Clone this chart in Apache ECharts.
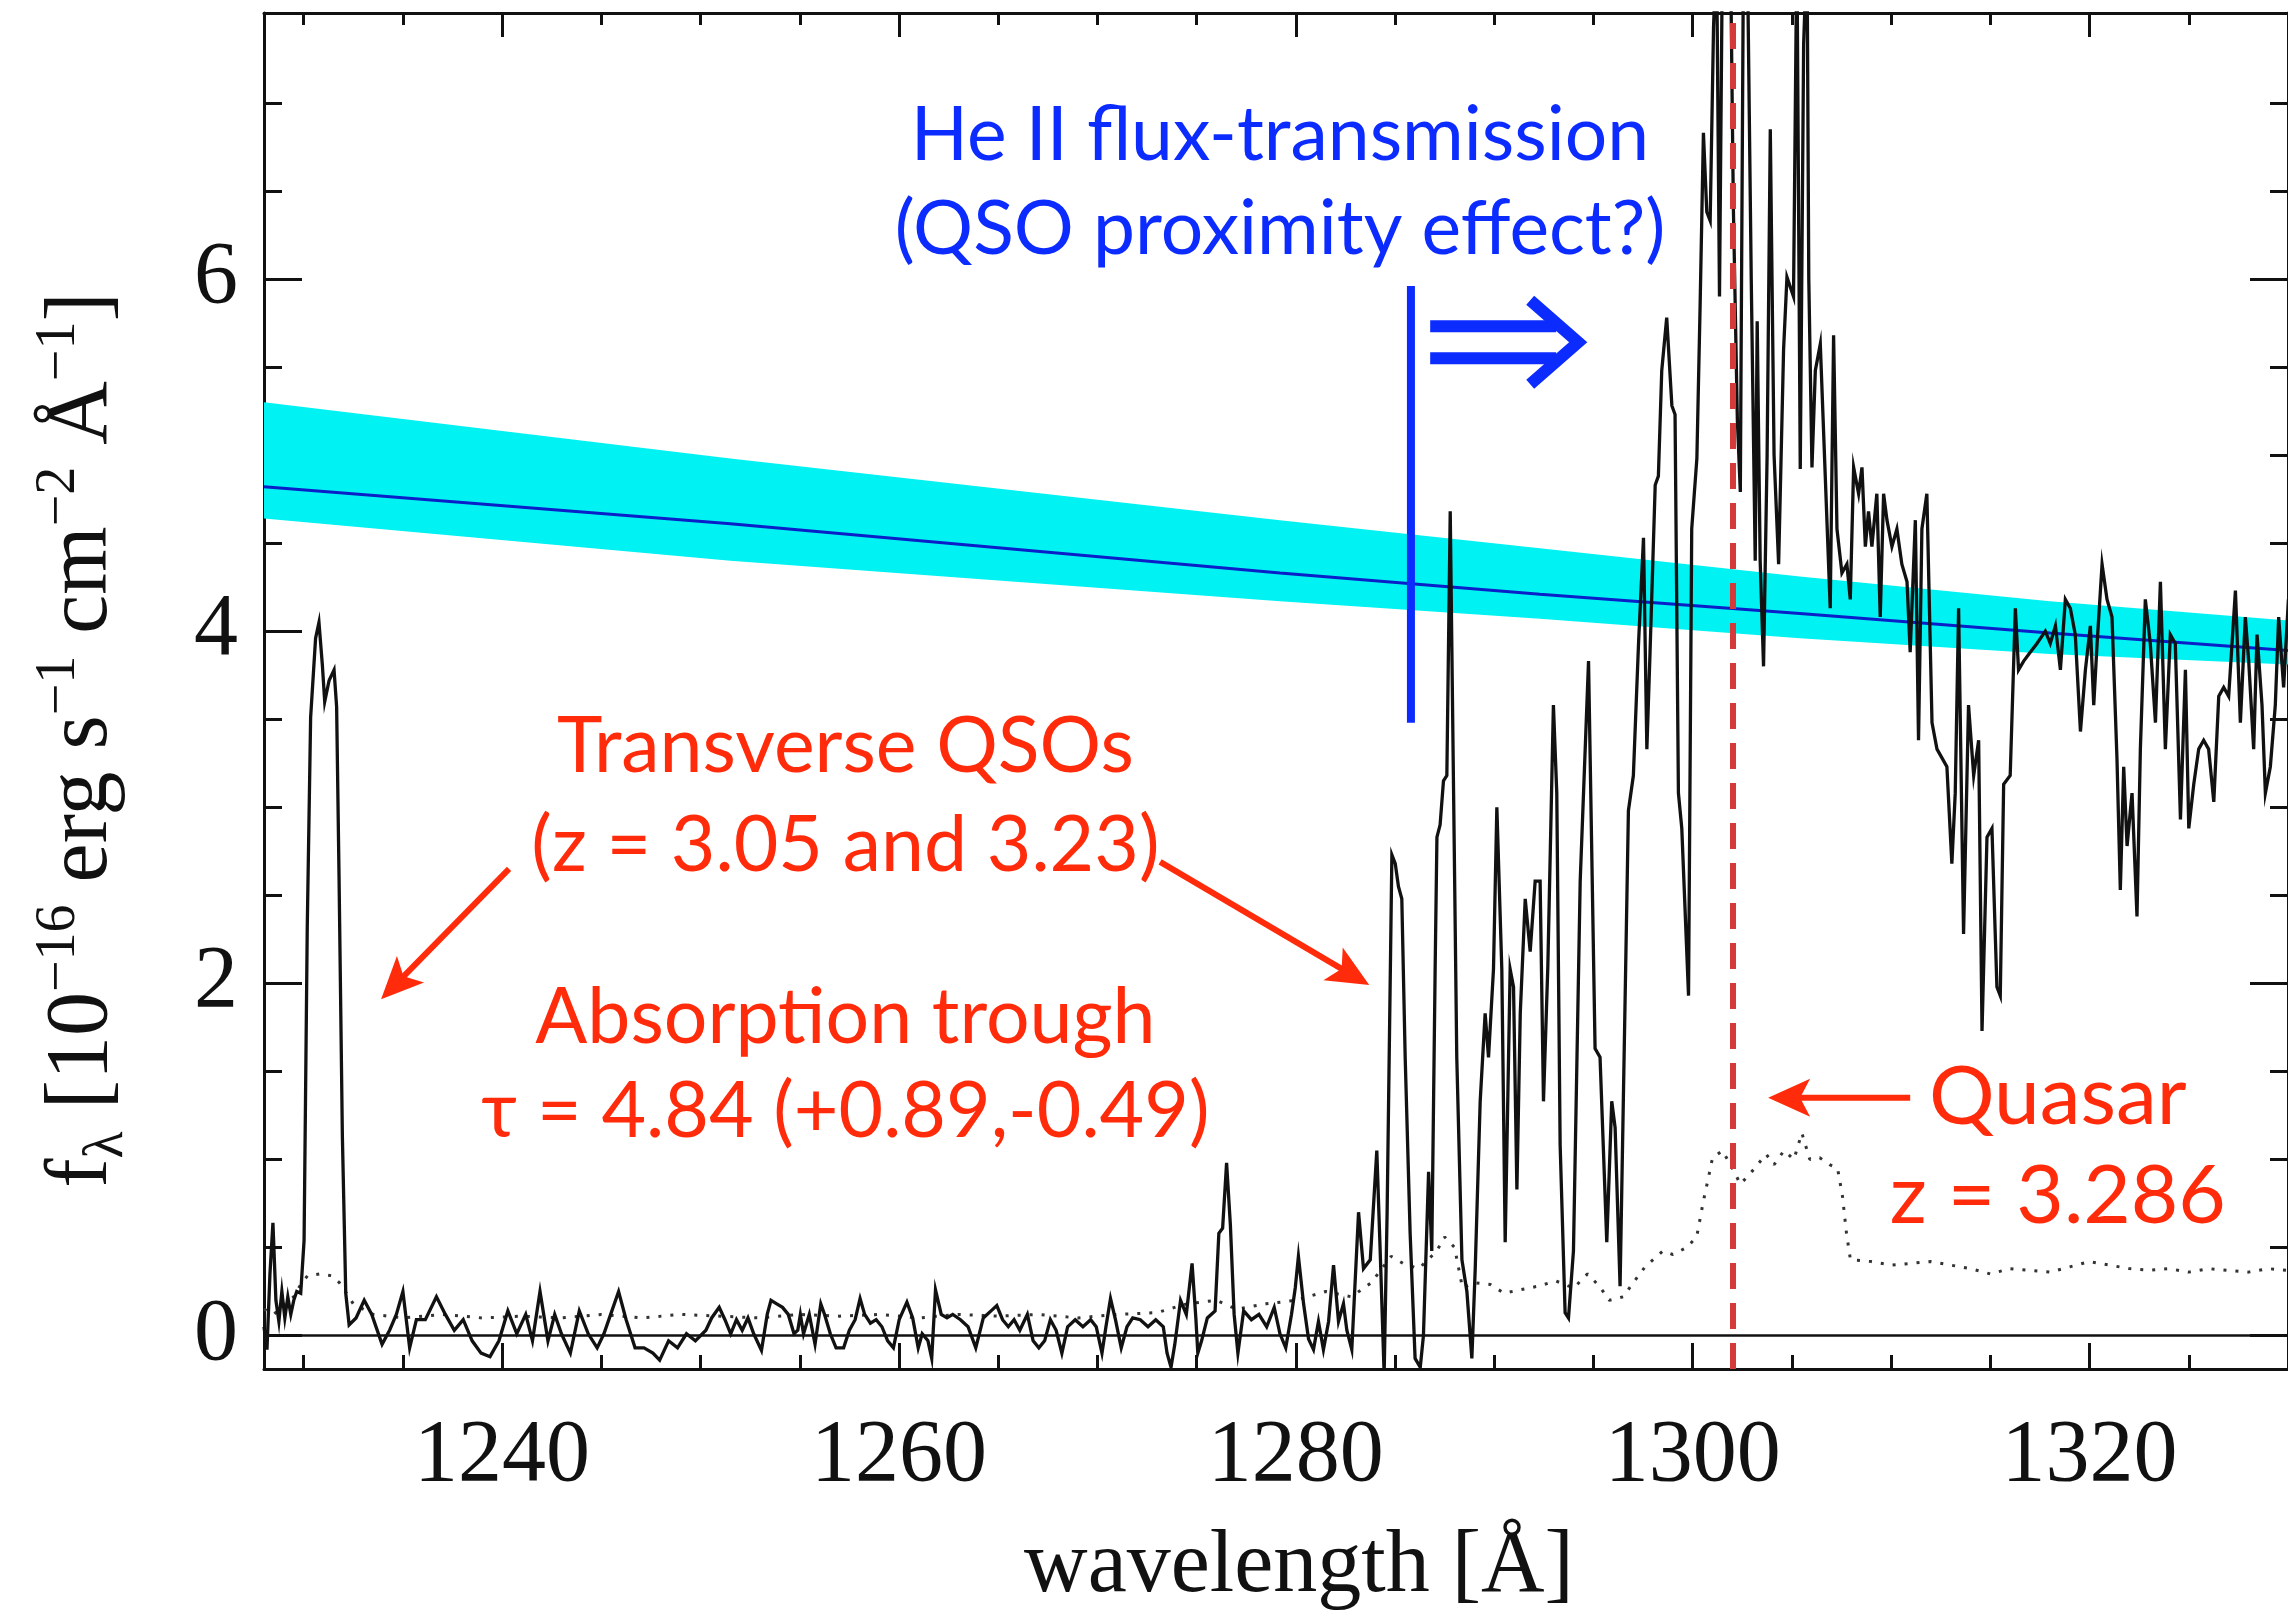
<!DOCTYPE html>
<html>
<head>
<meta charset="utf-8">
<title>He II transmission spectrum</title>
<script src="https://cdn.jsdelivr.net/npm/echarts@6/dist/echarts.min.js"></script>
<style>
html, body { margin: 0; padding: 0; background: #fff; }
#chart { width: 2288px; height: 1617px; }
</style>
</head>
<body>
<div id="chart"></div>
<script>
// axis ranges and ticks
const xMin = 1228, xMax = 1330;
const yMin = -0.19, yMax = 7.51;
const xTicks = [1240, 1260, 1280, 1300, 1320];
const xMinorTicks = [1230, 1235, 1245, 1250, 1255, 1265, 1270, 1275, 1285, 1290, 1295, 1305, 1310, 1315, 1325];
const yTicks = [0, 2, 4, 6];
const yMinorTicks = [0.5, 1, 1.5, 2.5, 3, 3.5, 4.5, 5, 5.5, 6.5, 7];

// observed flux [wavelength, f_lambda]
const flux = [
  [1228.0, 0.05], [1228.15, -0.08], [1228.3, 0.35], [1228.45, 0.64], [1228.6, 0.2], [1228.75, 0.08],
  [1228.9, 0.25], [1229.05, 0.1], [1229.2, 0.22], [1229.35, 0.12], [1229.5, 0.2], [1229.65, 0.25],
  [1229.85, 0.24], [1230.02, 0.54], [1230.18, 2.32], [1230.35, 3.51], [1230.6, 3.96], [1230.77, 4.05],
  [1230.94, 3.81], [1231.06, 3.6], [1231.28, 3.72], [1231.53, 3.78], [1231.66, 3.57], [1231.78, 2.62],
  [1231.95, 1.13], [1232.12, 0.24], [1232.29, 0.06], [1232.64, 0.1], [1233.05, 0.2], [1233.43, 0.12],
  [1233.95, -0.05], [1234.33, 0.03], [1234.67, 0.12], [1235.0, 0.25], [1235.34, -0.07], [1235.68, 0.09],
  [1236.13, 0.09], [1236.69, 0.22], [1237.14, 0.12], [1237.59, 0.03], [1238.04, 0.09], [1238.49, -0.03],
  [1238.94, -0.1], [1239.39, -0.12], [1239.84, -0.03], [1240.29, 0.14], [1240.74, 0.01], [1241.19, 0.12],
  [1241.53, -0.03], [1241.91, 0.25], [1242.31, -0.03], [1242.65, 0.12], [1242.99, 0.01], [1243.44, -0.1],
  [1243.89, 0.14], [1244.34, 0.01], [1244.79, -0.07], [1245.13, 0.01], [1245.47, 0.12], [1245.87, 0.25],
  [1246.25, 0.09], [1246.7, -0.07], [1247.15, -0.07], [1247.6, -0.1], [1247.94, -0.14], [1248.39, -0.03],
  [1248.84, -0.07], [1249.29, 0.01], [1249.74, -0.03], [1250.27, 0.03], [1250.56, 0.1], [1250.94, 0.16],
  [1251.23, 0.09], [1251.52, 0.01], [1251.81, 0.09], [1252.1, 0.03], [1252.39, 0.1], [1252.68, 0.01],
  [1253.07, -0.085], [1253.36, 0.12], [1253.55, 0.2], [1253.84, 0.18], [1254.13, 0.16], [1254.42, 0.12],
  [1254.71, 0.01], [1254.9, 0.03], [1255.03, 0.12], [1255.19, 0.01], [1255.48, 0.12], [1255.77, -0.05],
  [1256.06, 0.18], [1256.25, 0.12], [1256.54, 0.01], [1256.83, -0.07], [1257.21, -0.07], [1257.5, 0.03],
  [1257.79, 0.09], [1258.04, 0.21], [1258.27, 0.12], [1258.56, 0.07], [1258.85, 0.09], [1259.14, 0.05],
  [1259.43, -0.03], [1259.72, -0.07], [1260.01, 0.09], [1260.4, 0.19], [1260.69, 0.1], [1260.97, -0.07],
  [1261.17, 0.01], [1261.46, -0.03], [1261.65, -0.13], [1261.84, 0.26], [1262.13, 0.12], [1262.42, 0.1],
  [1262.71, 0.12], [1263.1, 0.09], [1263.48, 0.05], [1263.87, -0.07], [1264.25, 0.1], [1264.64, 0.14],
  [1264.93, 0.17], [1265.22, 0.09], [1265.51, 0.05], [1265.8, 0.09], [1266.09, 0.03], [1266.47, 0.12],
  [1266.76, -0.03], [1267.05, -0.07], [1267.34, -0.03], [1267.63, 0.09], [1267.92, 0.03], [1268.21, -0.1],
  [1268.5, 0.05], [1268.88, 0.09], [1269.27, 0.05], [1269.66, 0.09], [1269.94, 0.05], [1270.23, -0.1],
  [1270.43, 0.05], [1270.66, 0.21], [1270.91, 0.09], [1271.2, -0.07], [1271.49, 0.05], [1271.78, 0.1],
  [1272.16, 0.09], [1272.55, 0.05], [1272.94, 0.09], [1273.32, 0.05], [1273.51, -0.1], [1273.71, -0.18],
  [1273.9, -0.05], [1274.19, 0.2], [1274.48, 0.12], [1274.77, 0.41], [1274.96, 0.1], [1275.06, -0.1],
  [1275.25, -0.03], [1275.54, 0.1], [1275.93, 0.14], [1276.12, 0.58], [1276.31, 0.61], [1276.51, 0.98],
  [1276.7, 0.63], [1276.89, 0.12], [1277.08, -0.1], [1277.37, 0.14], [1277.76, 0.09], [1278.14, 0.12],
  [1278.53, 0.05], [1278.91, 0.16], [1279.2, 0.01], [1279.49, -0.07], [1279.78, 0.12], [1279.97, 0.27],
  [1280.13, 0.45], [1280.39, 0.18], [1280.64, -0.02], [1280.89, -0.08], [1281.14, 0.08], [1281.39, -0.08],
  [1281.65, 0.08], [1281.9, 0.4], [1282.15, 0.08], [1282.4, 0.18], [1282.57, 0.03], [1282.82, -0.08],
  [1283.16, 0.7], [1283.41, 0.38], [1283.75, 0.43], [1284.08, 1.05], [1284.25, 0.48], [1284.45, -0.22],
  [1284.6, 0.7], [1284.84, 2.73], [1285.01, 2.68], [1285.17, 2.55], [1285.34, 2.48], [1285.51, 1.58],
  [1285.76, 0.58], [1286.01, -0.13], [1286.27, -0.18], [1286.43, 0.0], [1286.69, 0.93], [1286.85, 0.48],
  [1287.02, 2.08], [1287.11, 2.83], [1287.27, 2.9], [1287.44, 3.15], [1287.61, 3.18], [1287.78, 4.68],
  [1287.95, 3.08], [1288.11, 1.58], [1288.37, 0.43], [1288.62, 0.25], [1288.87, -0.13], [1289.04, 0.38],
  [1289.29, 1.33], [1289.54, 1.83], [1289.71, 1.58], [1289.96, 2.08], [1290.13, 3.0], [1290.38, 2.08],
  [1290.55, 0.53], [1290.8, 2.08], [1290.97, 1.98], [1291.14, 0.83], [1291.31, 1.83], [1291.56, 2.48],
  [1291.81, 2.18], [1292.06, 2.58], [1292.31, 2.58], [1292.48, 1.33], [1292.7, 2.1], [1292.98, 3.58],
  [1293.15, 3.08], [1293.32, 1.08], [1293.57, 0.13], [1293.74, 0.1], [1293.99, 0.48], [1294.33, 2.58],
  [1294.75, 3.83], [1295.08, 1.63], [1295.33, 1.58], [1295.67, 0.53], [1295.92, 1.33], [1296.09, 1.18],
  [1296.34, 0.28], [1296.76, 2.98], [1297.01, 3.18], [1297.27, 3.93], [1297.52, 4.53], [1297.69, 3.33],
  [1297.85, 3.88], [1298.11, 4.83], [1298.27, 4.88], [1298.44, 5.48], [1298.69, 5.78], [1298.95, 5.28],
  [1299.11, 5.23], [1299.28, 3.08], [1299.45, 2.88], [1299.79, 1.93], [1299.95, 4.58], [1300.21, 4.98],
  [1300.37, 5.83], [1300.54, 6.83], [1300.71, 6.38], [1300.88, 6.33], [1301.05, 7.43], [1301.2, 7.9],
  [1301.35, 5.9], [1301.5, 7.9], [1301.7, 7.9], [1301.9, 7.9], [1302.05, 6.4], [1302.25, 5.2],
  [1302.4, 4.79], [1302.56, 7.9], [1302.75, 7.9], [1302.95, 6.0], [1303.15, 4.4], [1303.25, 5.76],
  [1303.4, 4.4], [1303.57, 3.8], [1303.75, 5.0], [1303.91, 6.85], [1304.1, 5.0], [1304.33, 4.38],
  [1304.58, 5.6], [1304.75, 6.01], [1305.08, 5.9], [1305.25, 7.9], [1305.42, 4.92], [1305.59, 7.33],
  [1305.76, 7.9], [1305.85, 6.0], [1306.01, 4.93], [1306.18, 5.48], [1306.43, 5.63], [1306.68, 4.88],
  [1306.93, 4.13], [1307.1, 5.68], [1307.27, 4.58], [1307.52, 4.33], [1307.77, 4.38], [1307.94, 4.18],
  [1308.11, 4.93], [1308.36, 4.78], [1308.53, 4.93], [1308.7, 4.48], [1308.86, 4.68], [1309.03, 4.48],
  [1309.28, 4.78], [1309.45, 4.08], [1309.62, 4.78], [1309.79, 4.63], [1310.04, 4.48], [1310.29, 4.58],
  [1310.54, 4.38], [1310.8, 4.28], [1310.96, 3.88], [1311.22, 4.63], [1311.38, 3.38], [1311.55, 4.58],
  [1311.8, 4.78], [1312.06, 3.48], [1312.31, 3.33], [1312.56, 3.28], [1312.81, 3.23], [1313.06, 2.68],
  [1313.23, 3.08], [1313.4, 4.13], [1313.65, 2.28], [1313.9, 3.58], [1314.16, 3.18], [1314.41, 3.38],
  [1314.58, 1.73], [1314.83, 2.83], [1315.08, 2.88], [1315.33, 1.98], [1315.5, 1.93], [1315.67, 3.13],
  [1316.0, 3.18], [1316.26, 4.13], [1316.42, 3.78], [1316.68, 3.83], [1317.01, 3.88], [1317.35, 3.93],
  [1317.77, 4.0], [1318.02, 3.93], [1318.28, 4.03], [1318.53, 3.78], [1318.78, 4.18], [1319.03, 4.13],
  [1319.28, 3.98], [1319.54, 3.43], [1319.79, 3.78], [1320.04, 4.03], [1320.21, 3.58], [1320.38, 3.93],
  [1320.63, 4.38], [1320.88, 4.18], [1321.13, 4.08], [1321.38, 3.28], [1321.55, 2.53], [1321.72, 3.23],
  [1321.89, 2.78], [1322.14, 3.08], [1322.39, 2.38], [1322.56, 3.33], [1322.81, 4.18], [1323.06, 3.93],
  [1323.32, 3.48], [1323.57, 4.28], [1323.82, 3.33], [1324.07, 3.98], [1324.32, 3.93], [1324.58, 2.93],
  [1324.83, 3.78], [1325.0, 2.88], [1325.25, 3.13], [1325.5, 3.33], [1325.75, 3.38], [1326.0, 3.33],
  [1326.26, 3.03], [1326.51, 3.63], [1326.76, 3.68], [1327.01, 3.63], [1327.35, 4.23], [1327.6, 3.48],
  [1327.85, 4.08], [1328.02, 3.83], [1328.27, 3.33], [1328.44, 3.98], [1328.69, 3.58], [1328.86, 3.08],
  [1329.11, 3.23], [1329.36, 3.58], [1329.53, 4.08], [1329.78, 3.68], [1330.02, 4.18]
];

// 1-sigma error spectrum (dotted)
const fluxErr = [
  [1228.0, 0.15], [1228.5, 0.12], [1229.0, 0.18], [1229.5, 0.22], [1229.9, 0.3], [1230.2, 0.34],
  [1230.8, 0.35], [1231.4, 0.34], [1231.8, 0.3], [1232.1, 0.25], [1232.5, 0.18], [1233.5, 0.12],
  [1235, 0.1], [1237, 0.12], [1239, 0.1], [1241, 0.11], [1243, 0.1], [1245, 0.12], [1247, 0.1],
  [1249, 0.12], [1251, 0.11], [1253, 0.1], [1255, 0.12], [1257, 0.11], [1259, 0.12], [1261, 0.1],
  [1263, 0.12], [1265, 0.11], [1267, 0.12], [1269, 0.1], [1271, 0.12], [1273, 0.13], [1274.5, 0.18],
  [1276, 0.2], [1277, 0.15], [1278.5, 0.18], [1280, 0.2], [1281.5, 0.25], [1282.8, 0.22], [1283.8, 0.3],
  [1284.8, 0.45], [1285.4, 0.41], [1286.2, 0.38], [1287.1, 0.48], [1287.5, 0.56], [1288.0, 0.5],
  [1288.4, 0.27], [1289.0, 0.3], [1289.8, 0.29], [1290.5, 0.24], [1291.3, 0.26], [1292.2, 0.28],
  [1293.1, 0.31], [1294.0, 0.27], [1294.7, 0.35], [1295.3, 0.28], [1295.8, 0.2], [1296.5, 0.22],
  [1297.0, 0.3], [1297.6, 0.39], [1298.5, 0.48], [1299.0, 0.46], [1299.7, 0.5], [1300.2, 0.56],
  [1300.55, 0.77], [1300.8, 0.9], [1301.0, 1.01], [1301.5, 1.05], [1302.0, 0.95], [1302.4, 0.86],
  [1302.9, 0.92], [1303.7, 1.03], [1304.1, 0.97], [1304.6, 1.05], [1305.1, 1.0], [1305.5, 1.15],
  [1305.9, 1.0], [1306.4, 1.01], [1306.9, 0.97], [1307.3, 0.95], [1307.55, 0.79], [1307.75, 0.58],
  [1307.95, 0.43], [1309, 0.42], [1310, 0.4], [1311, 0.41], [1312, 0.42], [1313, 0.4], [1314, 0.38],
  [1315, 0.35], [1316, 0.38], [1317, 0.37], [1318, 0.36], [1319, 0.39], [1320, 0.42], [1321, 0.4],
  [1322, 0.38], [1323, 0.37], [1324, 0.38], [1325, 0.36], [1326, 0.38], [1327, 0.37], [1328, 0.36],
  [1329, 0.38], [1330, 0.37]
];

// power-law continuum and its uncertainty band
const contWave = [1228, 1251.5, 1279.2, 1292.3, 1305.4, 1318, 1330];
const contFlux = [4.82, 4.61, 4.33, 4.21, 4.10, 3.99, 3.89];
const bandHigh = [5.30, 4.98, 4.63, 4.47, 4.31, 4.17, 4.06];
const bandLow = [4.64, 4.40, 4.17, 4.07, 3.96, 3.87, 3.81];

const zeroLine = [[xMin, 0], [xMax, 0]];
const quasarWave = 1302.0;
const heiiEdge = [[1285.8, 3.48], [1285.8, 5.96]];

const BLACK = '#111';
const RED = '#ff2b0a';
const BLUE = '#0b2bff';
const SERIF = '"Liberation Serif", "DejaVu Serif", serif';
const SANS = 'Lato, "Open Sans", sans-serif';

function xAxisOf(position, ticks, len, showLine, showLabel) {
  return {
    type: 'value', min: xMin, max: xMax, position: position,
    axisLine: { show: showLine, onZero: false, lineStyle: { color: BLACK, width: 3 } },
    axisTick: { show: true, inside: true, length: len, customValues: ticks, lineStyle: { color: BLACK, width: 3 } },
    axisLabel: showLabel
      ? { show: true, customValues: ticks, formatter: v => String(v),
          fontFamily: SERIF, fontSize: 88, color: BLACK, margin: 44 }
      : { show: false },
    splitLine: { show: false }
  };
}

function yAxisOf(position, ticks, len, showLine, showLabel) {
  return {
    type: 'value', min: yMin, max: yMax, position: position,
    axisLine: { show: showLine, onZero: false, lineStyle: { color: BLACK, width: 3 } },
    axisTick: { show: true, inside: true, length: len, customValues: ticks, lineStyle: { color: BLACK, width: 3 } },
    axisLabel: showLabel
      ? { show: true, customValues: ticks, formatter: v => String(v),
          fontFamily: SERIF, fontSize: 88, color: BLACK, margin: 26 }
      : { show: false },
    splitLine: { show: false }
  };
}

const chart = echarts.init(document.getElementById('chart'));

const option = {
  animation: false,
  backgroundColor: '#fff',
  grid: { left: 264, right: -2, top: 13, bottom: 248, containLabel: false },
  xAxis: [
    xAxisOf('bottom', xTicks, 26, true, true),
    xAxisOf('bottom', xMinorTicks, 14, false, false),
    xAxisOf('top', xTicks, 24, true, false),
    xAxisOf('top', xMinorTicks, 12, false, false)
  ],
  yAxis: [
    yAxisOf('left', yTicks, 38, true, true),
    yAxisOf('left', yMinorTicks, 18, false, false),
    yAxisOf('right', yTicks, 38, true, false),
    yAxisOf('right', yMinorTicks, 18, false, false)
  ],
  series: [
    {
      name: 'band',
      type: 'custom',
      z: 1,
      silent: true,
      clip: true,
      data: contWave.map((w, i) => [w, bandLow[i], bandHigh[i]]),
      encode: { x: 0, y: [1, 2] },
      renderItem: function (params, api) {
        if (params.dataIndex !== 0) return;
        const pts = [];
        for (let i = 0; i < contWave.length; i++) pts.push(api.coord([contWave[i], bandHigh[i]]));
        for (let i = contWave.length - 1; i >= 0; i--) pts.push(api.coord([contWave[i], bandLow[i]]));
        return { type: 'polygon', shape: { points: pts }, style: { fill: '#00f2f2' } };
      }
    },
    {
      name: 'continuum',
      type: 'line', z: 2, silent: true, showSymbol: false,
      data: contWave.map((w, i) => [w, contFlux[i]]),
      lineStyle: { color: '#0a1fc8', width: 3 }
    },
    {
      name: 'zero',
      type: 'line', z: 3, silent: true, showSymbol: false,
      data: zeroLine,
      lineStyle: { color: BLACK, width: 2.5 },
      markLine: {
        silent: true, symbol: 'none', label: { show: false },
        lineStyle: { color: '#d43a3a', width: 6, type: [26, 14] },
        data: [{ xAxis: quasarWave }]
      }
    },
    {
      name: 'error',
      type: 'line', z: 3, silent: true, showSymbol: false,
      data: fluxErr,
      lineStyle: { color: '#333', width: 3, type: [3, 9] }
    },
    {
      name: 'flux',
      type: 'line', z: 4, silent: true, showSymbol: false, clip: true,
      data: flux,
      lineStyle: { color: BLACK, width: 3.3, join: 'miter' }
    },
    {
      name: 'HeII edge',
      type: 'line', z: 5, silent: true, showSymbol: false,
      data: heiiEdge,
      lineStyle: { color: BLUE, width: 8 }
    }
  ]
};

chart.setOption(option);

// annotations placed in data coordinates
const px = p => chart.convertToPixel({ xAxisIndex: 0, yAxisIndex: 0 }, p);

function arrow(from, to, color) {
  const a = px(from), b = px(to);
  const dx = b[0] - a[0], dy = b[1] - a[1];
  const L = Math.hypot(dx, dy), ux = dx / L, uy = dy / L;
  const hl = 42, hw = 19;
  const bx = b[0] - ux * hl, by = b[1] - uy * hl;
  return [
    { type: 'line', shape: { x1: a[0], y1: a[1], x2: bx + ux * 12, y2: by + uy * 12 },
      style: { stroke: color, lineWidth: 6 } },
    { type: 'polygon', shape: { points: [
        [b[0], b[1]],
        [bx - uy * hw, by + ux * hw],
        [bx + ux * 10, by + uy * 10],
        [bx + uy * hw, by - ux * hw]
      ] }, style: { fill: color } }
  ];
}

function label(text, at, color, size) {
  const p = px(at);
  return { type: 'text', x: p[0], y: p[1], z: 10,
    style: { text: text, fill: color, font: size + 'px ' + SANS, align: 'center', verticalAlign: 'middle' } };
}

const dbl = [px([1286.77, 5.64]), px([1294.23, 5.64])];
const tipX = dbl[1][0], tipY = dbl[1][1];

const graphics = [].concat(
  [
    label('He II flux-transmission', [1279.2, 6.81], BLUE, 75),
    label('(QSO proximity effect?)', [1279.2, 6.28], BLUE, 75),
    label('Transverse QSOs', [1257.3, 3.34], RED, 77),
    label('(z = 3.05 and 3.23)', [1257.3, 2.78], RED, 77),
    label('Absorption trough', [1257.3, 1.80], RED, 77),
    label('\u03c4 = 4.84 (+0.89,-0.49)', [1257.3, 1.27], RED, 77),
    label('Quasar', [1318.4, 1.35], RED, 82),
    label('z = 3.286', [1318.4, 0.79], RED, 82)
  ],
  arrow([1240.35, 2.65], [1233.9, 1.91], RED),
  arrow([1273.16, 2.69], [1283.7, 1.99], RED),
  arrow([1310.96, 1.35], [1303.8, 1.35], RED),
  [
    { type: 'line', shape: { x1: dbl[0][0], y1: tipY - 16, x2: tipX - 22, y2: tipY - 16 },
      style: { stroke: BLUE, lineWidth: 12 } },
    { type: 'line', shape: { x1: dbl[0][0], y1: tipY + 16, x2: tipX - 22, y2: tipY + 16 },
      style: { stroke: BLUE, lineWidth: 12 } },
    { type: 'polyline', shape: { points: [[tipX - 48, tipY - 42], [tipX, tipY], [tipX - 48, tipY + 42]] },
      style: { stroke: BLUE, lineWidth: 12, fill: null, lineJoin: 'miter' } },
    {
      type: 'text', x: 1299, y: 1568, z: 10,
      style: { text: 'wavelength [\u00c5]', fill: BLACK, font: '88px ' + SERIF, align: 'center', verticalAlign: 'middle' }
    },
    {
      type: 'text', x: 83, y: 740, rotation: Math.PI / 2, z: 10,
      style: {
        text: 'f{sub|\u03bb} [10{sup|\u221216} erg s{sup|\u22121} cm{sup|\u22122} \u00c5{sup|\u22121}]',
        fill: BLACK, font: '88px ' + SERIF, lineHeight: 104,
        align: 'center', verticalAlign: 'middle',
        rich: {
          sup: { fontSize: 56, fontFamily: SERIF, lineHeight: 60, verticalAlign: 'top', fill: BLACK },
          sub: { fontSize: 56, fontFamily: SERIF, lineHeight: 60, verticalAlign: 'bottom', fill: BLACK }
        }
      }
    }
  ]
);

chart.setOption({ graphic: graphics });
</script>
</body>
</html>
